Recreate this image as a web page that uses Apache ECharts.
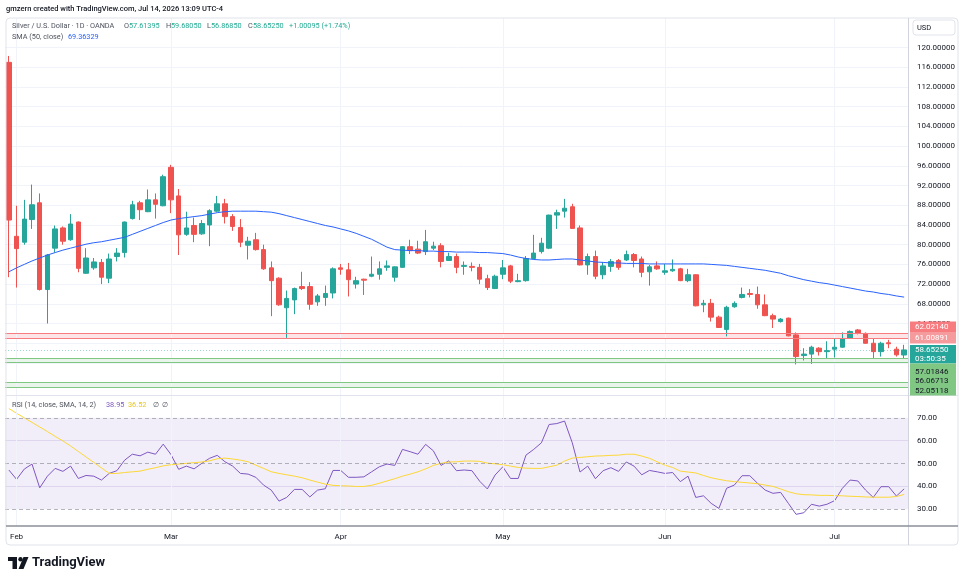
<!DOCTYPE html>
<html>
<head>
<meta charset="utf-8">
<script src="https://cdn.jsdelivr.net/npm/echarts@6/dist/echarts.min.js"></script>
<style>
  html, body { margin: 0; padding: 0; background: #fff; }
  #main { width: 964px; height: 582px; }
</style>
</head>
<body>
<div id="main"></div>
<script>
// trading days per month (OANDA daily bars, Good Friday closed)
const daysJan = [30];
const daysFeb = [2, 3, 4, 5, 6, 9, 10, 11, 12, 13, 16, 17, 18, 19, 20, 23, 24, 25, 26, 27];
const daysMar = [2, 3, 4, 5, 6, 9, 10, 11, 12, 13, 16, 17, 18, 19, 20, 23, 24, 25, 26, 27, 30, 31];
const daysApr = [1, 2, 6, 7, 8, 9, 10, 13, 14, 15, 16, 17, 20, 21, 22, 23, 24, 27, 28, 29, 30];
const daysMay = [1, 4, 5, 6, 7, 8, 11, 12, 13, 14, 15, 18, 19, 20, 21, 22, 25, 26, 27, 28, 29];
const daysJun = [1, 2, 3, 4, 5, 8, 9, 10, 11, 12, 15, 16, 17, 18, 19, 22, 23, 24, 25, 26, 29, 30];
const daysJul = [1, 2, 3, 6, 7, 8, 9, 10, 13, 14];

const opens = [
  117.0, 81.7, 80.5, 85.1, 88.5, 70.9, 79.3, 83.4, 81.0, 84.6,
  74.2, 75.3, 76.4, 73.2, 77.6, 78.4, 85.3, 88.5, 86.7, 89.1,
  87.9, 95.7, 89.9, 82.1, 83.9, 82.2, 84.0, 86.8, 88.3, 85.7,
  83.5, 79.9, 81.0, 79.0, 75.3, 73.2, 67.2, 68.8, 71.5, 71.5,
  68.4, 69.3, 70.2, 75.3, 74.9, 72.0, 73.0, 73.6, 74.0, 75.4,
  73.4, 75.4, 79.6, 79.1, 78.6, 79.3, 79.8, 76.8, 77.6, 75.6,
  75.6, 75.4, 73.1, 71.1, 74.0, 75.7, 72.5, 72.7, 77.2, 78.6,
  79.3, 86.0, 86.8, 87.7, 83.4, 75.9, 77.6, 73.9, 75.6, 76.8,
  76.9, 78.0, 77.1, 74.5, 75.7, 74.4, 74.7, 75.1, 72.7, 73.9,
  67.8, 68.1, 65.3, 62.8, 67.4, 69.3, 70.1, 69.9, 67.8, 65.6,
  64.4, 65.1, 61.7, 57.5, 57.8, 59.0, 58.3, 58.8, 59.2, 61.0,
  62.7, 62.0, 60.0, 58.3, 60.1, 58.8, 57.61395
];
const highs = [
  118.3, 87.9, 89.1, 92.2, 90.4, 78.1, 83.9, 83.7, 86.2, 84.7,
  79.3, 77.3, 77.1, 78.2, 79.3, 84.7, 88.9, 88.9, 91.2, 90.4,
  94.2, 96.2, 91.3, 86.7, 85.5, 85.0, 87.2, 89.9, 89.3, 86.2,
  85.2, 81.6, 82.4, 80.0, 76.6, 73.4, 70.7, 71.3, 74.5, 72.4,
  70.0, 71.7, 75.4, 76.1, 76.3, 73.5, 73.1, 77.6, 76.6, 76.8,
  75.6, 79.7, 81.0, 80.8, 83.0, 80.6, 80.3, 78.4, 78.2, 76.6,
  76.4, 76.1, 73.9, 73.9, 76.9, 75.9, 74.1, 77.7, 82.0, 81.4,
  86.1, 87.1, 89.3, 88.3, 83.9, 78.2, 78.8, 76.5, 77.1, 77.1,
  78.8, 78.3, 77.6, 75.9, 76.6, 76.1, 77.0, 75.3, 75.1, 74.0,
  68.8, 69.0, 65.6, 67.6, 68.5, 71.3, 71.0, 71.5, 69.9, 66.0,
  65.1, 65.2, 62.2, 59.0, 59.5, 59.2, 60.4, 60.9, 62.2, 62.6,
  62.9, 62.2, 60.9, 60.3, 60.7, 59.3, 59.6805
];
const lows = [
  73.4, 71.3, 80.0, 83.2, 70.7, 64.0, 78.4, 80.0, 80.8, 74.4,
  74.1, 74.9, 72.0, 72.2, 76.6, 77.4, 85.1, 85.0, 86.6, 85.3,
  87.8, 86.4, 77.9, 81.8, 80.5, 82.0, 79.7, 86.6, 84.3, 82.8,
  79.5, 77.0, 78.8, 74.9, 65.5, 67.6, 61.1, 65.9, 70.8, 66.8,
  67.6, 67.6, 69.1, 73.9, 69.5, 71.1, 69.8, 73.4, 72.9, 74.7,
  72.5, 75.3, 78.1, 78.1, 77.9, 78.9, 75.4, 76.7, 74.2, 73.9,
  74.6, 72.0, 70.8, 71.0, 73.0, 72.2, 72.4, 72.5, 77.0, 78.2,
  79.1, 83.2, 85.5, 83.2, 75.8, 73.9, 73.0, 73.0, 74.5, 74.9,
  76.7, 75.4, 73.4, 71.7, 74.9, 73.9, 74.5, 72.6, 72.4, 67.5,
  66.3, 64.4, 63.1, 61.4, 67.2, 69.1, 69.3, 67.0, 65.5, 63.1,
  64.2, 61.4, 55.7, 56.5, 55.8, 57.5, 57.0, 57.1, 59.1, 60.9,
  61.8, 59.9, 57.0, 57.3, 59.0, 57.3, 56.8685
];
const closes = [
  85.0, 79.2, 85.2, 88.1, 70.9, 77.9, 83.2, 80.7, 84.2, 75.2,
  77.3, 76.5, 73.4, 77.1, 78.3, 84.6, 88.1, 87.1, 89.1, 88.2,
  93.8, 89.1, 82.0, 83.4, 82.1, 84.3, 86.9, 88.3, 85.7, 83.7,
  80.5, 80.7, 79.0, 75.1, 72.7, 67.8, 69.1, 71.1, 71.1, 67.9,
  69.6, 70.1, 75.1, 75.0, 72.9, 72.7, 72.8, 74.0, 75.1, 75.7,
  75.5, 79.6, 78.8, 78.3, 80.6, 79.7, 76.6, 77.6, 75.4, 75.8,
  75.4, 73.0, 71.3, 73.6, 75.3, 72.6, 72.7, 77.2, 78.3, 80.3,
  86.0, 86.5, 87.4, 83.3, 75.9, 77.6, 73.6, 75.7, 76.6, 75.4,
  78.0, 76.8, 74.4, 75.5, 75.1, 74.7, 75.0, 72.7, 73.9, 67.6,
  68.1, 65.3, 63.2, 67.3, 68.1, 69.9, 69.9, 67.8, 65.6, 64.9,
  64.9, 61.5, 57.3, 57.8, 59.2, 58.3, 58.5, 59.2, 60.9, 62.4,
  62.0, 60.0, 58.3, 60.0, 59.9, 57.65, 58.6525
];
const sma50 = [
  74.5, 75.3, 76.0, 76.7, 77.3, 77.9, 78.4, 78.9, 79.3, 79.7,
  80.1, 80.4, 80.6, 80.9, 81.2, 81.5, 82.1, 82.7, 83.3, 83.9,
  84.5, 85.0, 85.3, 85.5, 85.7, 85.9, 86.2, 86.5, 86.7, 86.8,
  86.8, 86.8, 86.8, 86.7, 86.6, 86.3, 85.9, 85.5, 85.1, 84.7,
  84.3, 83.9, 83.6, 83.2, 82.8, 82.3, 81.7, 81.1, 80.3, 79.5,
  79.0, 78.9, 78.8, 78.8, 78.7, 78.7, 78.6, 78.6, 78.5, 78.5,
  78.5, 78.4, 78.4, 78.3, 78.2, 77.9, 77.5, 77.2, 77.0, 76.9,
  76.9, 77.0, 77.1, 77.1, 76.9, 76.7, 76.5, 76.4, 76.3, 76.3,
  76.2, 76.2, 76.2, 76.1, 76.1, 76.1, 76.1, 76.1, 76.1, 76.1,
  76.1, 76.0, 75.9, 75.8, 75.6, 75.4, 75.2, 75.0, 74.8, 74.5,
  74.2, 73.7, 73.3, 72.9, 72.6, 72.3, 72.1, 71.8, 71.5, 71.2,
  70.9, 70.6, 70.4, 70.1, 69.9, 69.6, 69.36329
];
const rsi = [
  47.2, 43.1, 47.6, 49.8, 39.4, 44.5, 47.9, 46.6, 48.9, 43.5,
  44.8, 44.5, 42.8, 45.7, 46.9, 51.5, 54.1, 53.4, 55.0, 54.1,
  58.5, 54.0, 47.5, 48.9, 47.7, 50.1, 52.3, 53.6, 50.8, 48.9,
  45.7, 45.4, 44.0, 40.6, 38.4, 33.6, 35.2, 38.7, 38.7, 35.4,
  38.4, 39.0, 47.0, 47.0, 44.0, 44.0, 44.2, 46.4, 48.6, 49.8,
  49.2, 56.2, 55.2, 54.1, 58.4, 55.6, 49.2, 51.2, 46.9, 47.2,
  46.9, 42.3, 38.9, 45.0, 48.6, 43.5, 43.5, 53.7, 56.2, 59.1,
  67.1, 67.5, 68.6, 59.1, 46.3, 48.9, 43.4, 46.9, 48.2, 46.6,
  50.7, 48.9, 45.1, 47.0, 46.4, 45.7, 46.1, 42.1, 44.5, 35.2,
  35.9, 32.6, 30.4, 39.2, 40.6, 44.7, 44.7, 41.4, 38.4, 37.0,
  37.4, 32.6, 27.8, 28.5, 32.2, 31.4, 32.2, 33.8, 39.2, 42.8,
  42.4, 38.4, 35.2, 39.9, 39.9, 35.8, 38.95
];
const rsiSma = [
  74.1, 72.0, 70.0, 68.0, 66.0, 64.0, 61.9, 59.9, 57.7, 55.3,
  52.9, 50.5, 48.1, 45.7, 45.7, 46.1, 46.4, 46.7, 47.5, 48.2,
  49.0, 49.5, 49.8, 50.1, 50.4, 50.7, 51.2, 52.1, 52.4, 52.0,
  51.5, 50.8, 49.3, 47.9, 46.4, 45.7, 45.1, 44.5, 43.8, 42.8,
  41.9, 41.0, 40.5, 40.3, 40.2, 40.0, 40.0, 40.5, 41.4, 42.4,
  43.4, 44.5, 45.4, 46.4, 47.7, 49.2, 50.1, 50.7, 50.8, 51.1,
  51.1, 51.0, 50.2, 49.9, 49.5, 48.9, 48.3, 48.0, 47.9, 47.9,
  48.6, 49.3, 51.1, 52.4, 52.7, 53.0, 53.3, 53.4, 53.6, 53.7,
  54.1, 54.1, 53.3, 52.3, 50.8, 49.3, 48.3, 46.7, 46.3, 45.9,
  44.8, 43.8, 43.1, 42.5, 42.1, 41.8, 41.5, 41.2, 40.6, 40.0,
  38.9, 37.7, 36.8, 36.4, 36.3, 36.1, 36.1, 36.0, 35.9, 35.7,
  35.6, 35.4, 35.3, 35.3, 35.3, 35.6, 36.52
];

// drawn levels
const redLevels = [62.0214, 61.00891];
const greenLevels = [57.01846, 56.06713, 52.05118, 51.1];
const lastPrice = 58.6525;
const priceLabels = [64, 68, 72, 76, 80, 84, 88, 92, 96, 100, 104, 108, 112, 116, 120];
const priceGrid = [52, 56, 60, 64, 68, 72, 76, 80, 84, 88, 92, 96, 100, 104, 108, 112, 116, 120];
const rsiLabels = [30, 40, 50, 60, 70];
const monthNames = ['Jan', 'Feb', 'Mar', 'Apr', 'May', 'Jun', 'Jul'];

const pad = (d) => (d < 10 ? '0' + d : '' + d);
const dates = [].concat(
  daysJan.map((d) => '2026-01-' + pad(d)),
  daysFeb.map((d) => '2026-02-' + pad(d)),
  daysMar.map((d) => '2026-03-' + pad(d)),
  daysApr.map((d) => '2026-04-' + pad(d)),
  daysMay.map((d) => '2026-05-' + pad(d)),
  daysJun.map((d) => '2026-06-' + pad(d)),
  daysJul.map((d) => '2026-07-' + pad(d))
);
const isMonthStart = (i) => i > 0 && dates[i].slice(5, 7) !== dates[i - 1].slice(5, 7);
const monthStarts = dates.filter((d, i) => isMonthStart(i));

const candles = dates.map((d, i) => [opens[i], closes[i], lows[i], highs[i]]);

const UP = '#26a69a';
const DOWN = '#ef5350';
const FONT = 'Roboto';
const TXT = '#131722';
const GRIDLINE = '#f0f3fa';

var chartDom = document.getElementById('main');
var myChart = echarts.init(chartDom);

const monthLines = monthStarts.map((d) => ({ xAxis: d }));

// right-side price tags (stacked like the original)
function tag(y, h, fill, lines, color) {
  const out = [{
    type: 'rect', z: 100,
    shape: { x: 910, y: y, width: 46, height: h },
    style: { fill: fill }
  }];
  lines.forEach((l) => {
    out.push({
      type: 'text', z: 101,
      style: { text: l[0], x: 915, y: l[1], fill: color, font: '8px ' + FONT, textVerticalAlign: 'middle' }
    });
  });
  return out;
}

function txt(x, y, text, color, size, weight) {
  return {
    type: 'text', z: 50,
    style: {
      text: text, x: x, y: y, fill: color,
      font: (weight || 'normal') + ' ' + (size || 7.3) + 'px ' + FONT,
      textVerticalAlign: 'middle'
    }
  };
}

const graphics = [
  // frame and separators
  { type: 'rect', z: 40, silent: true, shape: { x: 6, y: 18, width: 952, height: 527, r: 4 },
    style: { fill: 'none', stroke: '#e0e3eb', lineWidth: 1 } },
  { type: 'line', z: 40, shape: { x1: 6, y1: 395.5, x2: 958, y2: 395.5 }, style: { stroke: '#e0e3eb', lineWidth: 1 } },
  { type: 'line', z: 40, shape: { x1: 908.5, y1: 18, x2: 908.5, y2: 545 }, style: { stroke: '#d1d4dc', lineWidth: 1 } },
  { type: 'line', z: 40, shape: { x1: 6, y1: 526, x2: 958, y2: 526 }, style: { stroke: '#8c8f99', lineWidth: 1.3 } },

  // header texts
  txt(6, 9, 'gmzern created with TradingView.com, Jul 14, 2026 13:09 UTC-4', TXT, 7.5, '500'),
  txt(12, 26, 'Silver / U.S. Dollar · 1D · OANDA', '#50535e'),
  txt(124, 26, 'O', '#50535e'), txt(129, 26, '57.61395', '#22ab94'),
  txt(166, 26, 'H', '#50535e'), txt(171, 26, '59.68050', '#22ab94'),
  txt(207, 26, 'L', '#50535e'), txt(211, 26, '56.86850', '#22ab94'),
  txt(248, 26, 'C', '#50535e'), txt(253, 26, '58.65250', '#22ab94'),
  txt(289, 26, '+1.00095 (+1.74%)', '#22ab94'),
  txt(12, 37, 'SMA (50, close)', '#50535e'),
  txt(68, 37, '69.36329', '#2962ff'),
  txt(12, 405, 'RSI (14, close, SMA, 14, 2)', '#50535e'),
  txt(106, 405, '38.95', '#7e57c2'),
  txt(128, 405, '36.52', '#e6c619'),
  txt(153, 405, '∅', '#50535e'),
  txt(162, 405, '∅', '#50535e'),

  // currency box
  { type: 'rect', z: 100, shape: { x: 913, y: 20, width: 42, height: 15, r: 3 },
    style: { fill: '#fff', stroke: '#e0e3eb', lineWidth: 1 } },
  { type: 'text', z: 101, style: { text: 'USD', x: 917, y: 28, fill: TXT, font: '7.5px ' + FONT, textVerticalAlign: 'middle' } },

  // logo
  { type: 'rect', z: 50, shape: { x: 8, y: 557, width: 9, height: 4 }, style: { fill: TXT } },
  { type: 'rect', z: 50, shape: { x: 12.5, y: 557, width: 4.5, height: 12 }, style: { fill: TXT } },
  { type: 'circle', z: 50, shape: { cx: 20.5, cy: 559.2, r: 2.2 }, style: { fill: TXT } },
  { type: 'polygon', z: 50, shape: { points: [[23.5, 557], [28.5, 557], [23.5, 569], [18.5, 569]] }, style: { fill: TXT } },
  txt(32, 563, 'TradingView', TXT, 13, 'bold')
].concat(
  tag(321.5, 10.5, '#f77c80', [['62.02140', 327]], '#ffffff'),
  tag(332, 11.5, '#f59b9e', [['61.00891', 337.5]], '#ffffff'),
  tag(345, 18.5, UP, [['58.65250', 350], ['03:50:35', 359]], '#ffffff'),
  tag(363.5, 32, '#81c784', [['57.01846', 371.5], ['56.06713', 381], ['52.05118', 391]], TXT)
);

var option = {
  animation: false,
  backgroundColor: '#ffffff',
  textStyle: { fontFamily: FONT },
  grid: [
    { left: 5, right: 56, top: 18, height: 377 },
    { left: 5, right: 56, top: 395, height: 131 }
  ],
  xAxis: [
    {
      type: 'category', gridIndex: 0, data: dates, boundaryGap: true,
      axisLine: { show: false }, axisTick: { show: false }, axisLabel: { show: false }, splitLine: { show: false }
    },
    {
      type: 'category', gridIndex: 1, data: dates, boundaryGap: true,
      axisLine: { show: false }, axisTick: { show: false }, splitLine: { show: false },
      axisLabel: {
        interval: (i) => isMonthStart(i),
        formatter: (v) => monthNames[parseInt(v.slice(5, 7), 10) - 1],
        color: TXT, fontSize: 8, margin: 7, fontFamily: FONT
      }
    }
  ],
  yAxis: [
    {
      type: 'value', gridIndex: 0, position: 'right', min: 49.5, max: 126,
      axisLine: { show: false },
      axisTick: { show: false, customValues: priceGrid },
      axisLabel: {
        customValues: priceLabels, formatter: (v) => v.toFixed(5),
        color: TXT, fontSize: 8, margin: 9, fontFamily: FONT
      },
      splitLine: { show: true, lineStyle: { color: GRIDLINE, width: 1 } }
    },
    {
      type: 'value', gridIndex: 1, position: 'right', min: 22.7, max: 80,
      axisLine: { show: false },
      axisTick: { show: false, customValues: [40, 60] },
      axisLabel: {
        customValues: rsiLabels, formatter: (v) => v.toFixed(2),
        color: TXT, fontSize: 8, margin: 9, fontFamily: FONT
      },
      splitLine: { show: true, lineStyle: { color: '#e9e5f3', width: 1 } }
    }
  ],
  series: [
    {
      name: 'Silver', type: 'candlestick', xAxisIndex: 0, yAxisIndex: 0,
      data: candles, barWidth: 5,
      itemStyle: { color: UP, color0: DOWN, borderColor: UP, borderColor0: DOWN, borderWidth: 1 },
      markLine: {
        silent: true, symbol: ['none', 'none'], z: 1, label: { show: false },
        lineStyle: { color: GRIDLINE, type: 'solid', width: 1 },
        data: monthLines
      },
      markArea: {
        silent: true, z: 1,
        data: [
          [{ yAxis: redLevels[1], itemStyle: { color: 'rgba(242,54,69,0.13)' } }, { yAxis: redLevels[0] }],
          [{ yAxis: greenLevels[1], itemStyle: { color: 'rgba(76,175,80,0.12)' } }, { yAxis: greenLevels[0] }],
          [{ yAxis: greenLevels[3], itemStyle: { color: 'rgba(76,175,80,0.12)' } }, { yAxis: greenLevels[2] }]
        ]
      }
    },
    {
      name: 'SMA 50', type: 'line', xAxisIndex: 0, yAxisIndex: 0,
      data: sma50, showSymbol: false, symbol: 'none',
      lineStyle: { color: '#2962ff', width: 1 },
      markLine: {
        silent: true, symbol: ['none', 'none'], label: { show: false },
        data: redLevels.map((v) => ({ yAxis: v, lineStyle: { color: '#f77c80', width: 1.2, type: 'solid' } }))
          .concat(greenLevels.map((v) => ({ yAxis: v, lineStyle: { color: '#81c784', width: 1.2, type: 'solid' } })))
          .concat([{ yAxis: lastPrice, lineStyle: { color: 'rgba(38,166,154,0.45)', width: 1, type: [1, 2] } }])
      }
    },
    {
      name: 'RSI', type: 'line', xAxisIndex: 1, yAxisIndex: 1,
      data: rsi, showSymbol: false, symbol: 'none',
      lineStyle: { color: '#7e57c2', width: 1 },
      markArea: {
        silent: true,
        itemStyle: { color: 'rgba(126,87,194,0.1)' },
        data: [[{ yAxis: 30 }, { yAxis: 70 }]]
      },
      markLine: {
        silent: true, symbol: ['none', 'none'], label: { show: false },
        data: [70, 50, 30].map((v) => ({ yAxis: v, lineStyle: { color: 'rgba(120,123,134,0.55)', type: [4, 3], width: 1 } }))
          .concat(monthLines.map((m) => Object.assign({ lineStyle: { color: GRIDLINE, type: 'solid', width: 1 } }, m)))
      }
    },
    {
      name: 'RSI SMA', type: 'line', xAxisIndex: 1, yAxisIndex: 1,
      data: rsiSma, showSymbol: false, symbol: 'none',
      lineStyle: { color: '#fdd835', width: 1 }
    }
  ],
  graphic: graphics
};

myChart.setOption(option);
</script>
</body>
</html>
